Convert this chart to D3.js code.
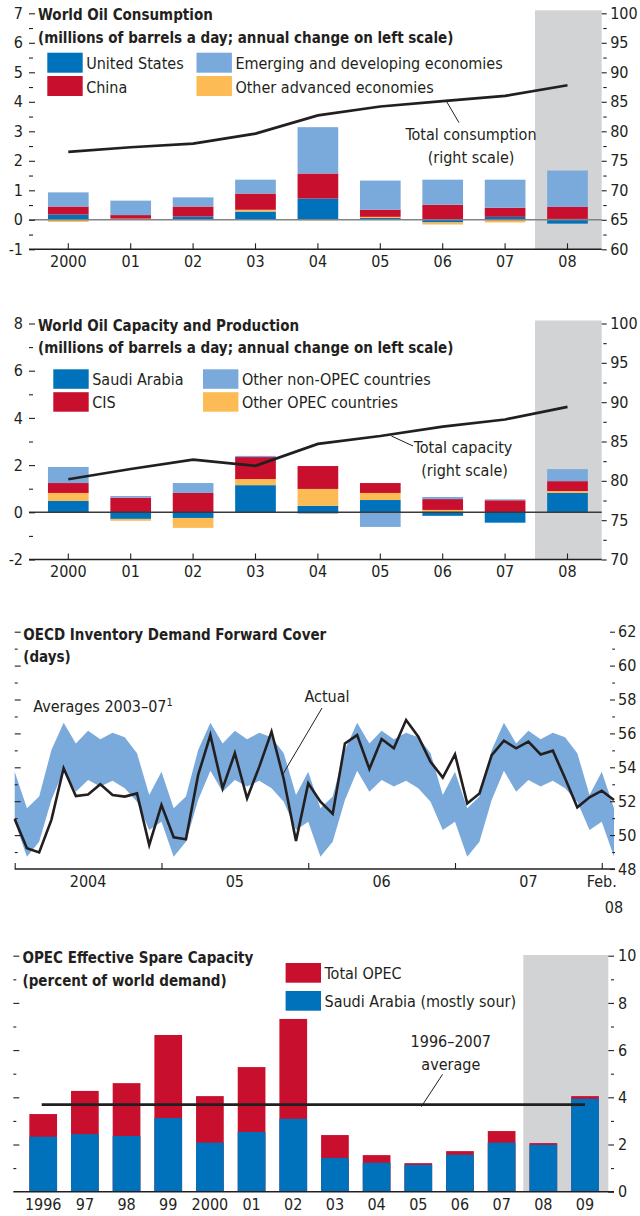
<!DOCTYPE html>
<html>
<head>
<meta charset="utf-8">
<script src="https://cdn.jsdelivr.net/npm/d3@7"></script>
<style>
	body { margin: 0; background: #fff; }
	text { font-family: 'DejaVu Sans Condensed', 'DejaVu Sans', sans-serif; fill: #231f20; }
</style>
</head>
<body>
<svg id="chart" width="640" height="1216"></svg>
<script>
// world oil consumption, annual change (mb/d) and total (right scale)
const consYears = ['2000', '01', '02', '03', '04', '05', '06', '07', '08'];
const consUS = [0.18, 0.02, 0.11, 0.28, 0.72, 0.06, -0.09, 0.10, -0.13];
const consOtherAdv = [-0.07, 0.02, -0.01, 0.06, -0.02, 0.04, -0.07, -0.09, 0.03];
const consChina = [0.27, 0.12, 0.34, 0.55, 0.85, 0.24, 0.51, 0.31, 0.41];
const consEmerging = [0.48, 0.49, 0.31, 0.47, 1.57, 0.99, 0.85, 0.95, 1.23];
const consTotal = [76.5, 77.3, 77.9, 79.6, 82.7, 84.2, 85.1, 86.0, 87.8];

// world oil capacity and production
const capYears = ['2000', '01', '02', '03', '04', '05', '06', '07', '08'];
const capSaudi = [0.48, -0.28, -0.24, 1.15, 0.27, 0.52, -0.15, -0.44, 0.82];
const capOtherOpec = [0.34, -0.08, -0.42, 0.26, 0.72, 0.30, 0.10, 0.0, 0.08];
const capCIS = [0.42, 0.62, 0.82, 0.93, 0.97, 0.42, 0.46, 0.51, 0.42];
const capNonOpec = [0.68, 0.07, 0.42, 0.05, -0.06, -0.62, 0.09, 0.04, 0.51];
const capTotal = [80.2, 81.5, 82.7, 81.9, 84.7, 85.7, 86.9, 87.8, 89.4];

// OECD forward cover (days), monthly Jan 2004 - Feb 2008
const coverActual = [
	50.95, 49.22, 48.98, 50.9, 53.94, 52.3, 52.4, 53.0, 52.37, 52.27, 52.46, 49.42,
	51.78, 49.87, 49.75, 53.55, 55.9, 52.76, 54.83, 52.17, 54.04, 56.1, 53.3, 49.65,
	53.05, 51.97, 51.25, 55.41, 55.9, 53.9, 55.67, 55.12, 56.79, 55.8, 54.33, 53.39,
	54.76, 51.87, 52.46, 54.72, 55.57, 55.12, 55.51, 54.76, 54.98, 53.35, 51.64, 52.23,
	52.62, 52.07
];
// 2003-07 averages by calendar month (Jan..Dec)
const coverAvgHigh = [53.74, 51.58, 52.27, 55.02, 56.63, 55.41, 56.16, 55.65, 56.04, 55.77, 54.83, 52.37];
const coverAvgLow = [50.79, 48.73, 49.61, 52.07, 53.8, 52.56, 53.25, 52.86, 53.21, 52.76, 51.97, 50.3];
const coverYearLabels = ['2004', '05', '06', '07'];

// OPEC effective spare capacity (% of world demand)
const spareYears = ['1996', '97', '98', '99', '2000', '01', '02', '03', '04', '05', '06', '07', '08', '09'];
const spareTotal = [3.29, 4.27, 4.6, 6.64, 4.05, 5.28, 7.32, 2.4, 1.55, 1.21, 1.72, 2.57, 2.06, 4.05];
const spareSaudi = [2.33, 2.44, 2.36, 3.12, 2.08, 2.53, 3.09, 1.43, 1.23, 1.14, 1.57, 2.08, 1.99, 3.94];
const spareAverage = 3.69;

const FONT = "'DejaVu Sans Condensed', 'DejaVu Sans', sans-serif";
const INK = '#231f20';
const BLUE = '#0072bc';
const RED = '#c8102e';
const LIGHT = '#7aaadb';
const ORANGE = '#fdbb55';
const SHADE = '#d1d3d4';
const AXIS_FS = 16;
const TEXT_FS = 16;
const TITLE_FS = 15;

const svg = d3.select('#chart');

function addAxis(axis, tx, ty) {
	const g = svg.append('g')
		.attr('transform', `translate(${tx}, ${ty})`)
		.call(axis);
	g.select('.domain').remove();
	g.attr('font-family', FONT)
		.attr('font-size', AXIS_FS)
		.attr('color', INK);
	g.selectAll('line').attr('stroke-width', 1.1);
	return g;
}

function hline(x1, x2, y, color, w) {
	svg.append('line')
		.attr('x1', x1).attr('x2', x2)
		.attr('y1', y).attr('y2', y)
		.attr('stroke', color)
		.attr('stroke-width', w);
}

function label(txt, x, y, opts = {}) {
	return svg.append('text')
		.attr('x', x)
		.attr('y', y)
		.attr('font-size', opts.size || TEXT_FS)
		.attr('font-weight', opts.bold ? 'bold' : null)
		.attr('text-anchor', opts.anchor || 'start')
		.text(txt);
}

function leader(x1, y1, x2, y2) {
	svg.append('line')
		.attr('x1', x1).attr('y1', y1)
		.attr('x2', x2).attr('y2', y2)
		.attr('stroke', INK)
		.attr('stroke-width', 1);
}

function legend(items) {
	items.forEach(it => {
		svg.append('rect')
			.attr('x', it.x).attr('y', it.y)
			.attr('width', it.w).attr('height', it.h)
			.attr('fill', it.color);
		label(it.name, it.x + it.w + 3.5, it.y + it.h - 3.5);
	});
}

// panels 1 and 2: diverging stacked bars + total line on right scale
function drawStackPanel(p) {
	const x = d3.scaleBand()
		.domain(p.years)
		.range([37.1, 598.7])
		.paddingInner(0.348)
		.paddingOuter(0.174);
	const y = d3.scaleLinear().domain(p.leftDomain).range(p.yRange);
	const yR = d3.scaleLinear().domain(p.rightDomain).range(p.yRange);

	// forecast shading
	svg.append('rect')
		.attr('x', 535)
		.attr('y', p.yRange[1] - 3)
		.attr('width', 601.7 - 535)
		.attr('height', p.yRange[0] - p.yRange[1] + 3)
		.attr('fill', SHADE);

	const rows = p.years.map((yr, i) => {
		const row = {year: yr};
		p.series.forEach(s => { row[s.key] = s.values[i]; });
		return row;
	});
	const stack = d3.stack()
		.keys(p.series.map(s => s.key))
		.offset(d3.stackOffsetDiverging)(rows);

	svg.append('g')
		.selectAll('g')
		.data(stack)
		.join('g')
			.attr('fill', (d, i) => p.series[i].color)
		.selectAll('rect')
		.data(d => d)
		.join('rect')
			.attr('x', d => x(d.data.year))
			.attr('width', x.bandwidth())
			.attr('y', d => Math.min(y(d[0]), y(d[1])))
			.attr('height', d => Math.abs(y(d[0]) - y(d[1])));

	hline(29, 601.7, y(0), p.zeroColor, 1.4);

	const line = d3.line()
		.x((d, i) => x(p.years[i]) + x.bandwidth() / 2)
		.y(d => yR(d));
	svg.append('path')
		.datum(p.total)
		.attr('d', line)
		.attr('fill', 'none')
		.attr('stroke', INK)
		.attr('stroke-width', 2.7);

	// axes
	hline(29, 601.7, p.yRange[0], INK, 1.4);
	addAxis(d3.axisBottom(x).tickSize(-6).tickSizeOuter(0).tickPadding(6.5), 0, p.yRange[0]);
	addAxis(d3.axisLeft(y).tickValues(p.leftMajor).tickSize(-6).tickPadding(6).tickFormat(d => String(d)), 29, 0);
	addAxis(d3.axisLeft(y).tickValues(p.leftMinor).tickSize(-4).tickFormat(''), 29, 0);
	addAxis(d3.axisRight(yR).tickValues(p.rightMajor).tickSize(-5).tickPadding(3.5), 606.7, 0);
	addAxis(d3.axisRight(yR).tickValues(p.rightMinor).tickSize(-3.4).tickFormat(''), 606.7, 0);
}

// ---- panel 1 ----
drawStackPanel({
	years: consYears,
	series: [
		{key: 'us', values: consUS, color: BLUE},
		{key: 'otherAdv', values: consOtherAdv, color: ORANGE},
		{key: 'china', values: consChina, color: RED},
		{key: 'emerging', values: consEmerging, color: LIGHT}
	],
	total: consTotal,
	leftDomain: [-1, 7],
	rightDomain: [60, 100],
	yRange: [249.3, 13.3],
	leftMajor: d3.range(-1, 8),
	leftMinor: d3.range(-0.5, 7, 1),
	rightMajor: d3.range(60, 101, 5),
	rightMinor: d3.range(62.5, 100, 5),
	zeroColor: '#808285'
});
label('World Oil Consumption', 38, 19.5, {bold: true, size: TITLE_FS});
label('(millions of barrels a day; annual change on left scale)', 38, 42.5, {bold: true, size: TITLE_FS});
legend([
	{name: 'United States', color: BLUE, x: 47.3, y: 52.7, w: 35.4, h: 20},
	{name: 'China', color: RED, x: 47.3, y: 76, w: 35.4, h: 20},
	{name: 'Emerging and developing economies', color: LIGHT, x: 196.5, y: 52.7, w: 35.4, h: 20},
	{name: 'Other advanced economies', color: ORANGE, x: 196.5, y: 76, w: 35.4, h: 20}
]);
label('Total consumption', 471, 139.5, {anchor: 'middle'});
label('(right scale)', 471, 162.5, {anchor: 'middle'});
leader(446.7, 101.7, 459, 122.7);

// ---- panel 2 ----
drawStackPanel({
	years: capYears,
	series: [
		{key: 'saudi', values: capSaudi, color: BLUE},
		{key: 'otherOpec', values: capOtherOpec, color: ORANGE},
		{key: 'cis', values: capCIS, color: RED},
		{key: 'nonOpec', values: capNonOpec, color: LIGHT}
	],
	total: capTotal,
	leftDomain: [-2, 8],
	rightDomain: [70, 100],
	yRange: [559.5, 323.5],
	leftMajor: d3.range(-2, 9, 2),
	leftMinor: d3.range(-1, 8, 2),
	rightMajor: d3.range(70, 101, 5),
	rightMinor: d3.range(72.5, 100, 5),
	zeroColor: '#3a3a3a'
});
label('World Oil Capacity and Production', 38, 330.5, {bold: true, size: TITLE_FS});
label('(millions of barrels a day; annual change on left scale)', 38, 353.3, {bold: true, size: TITLE_FS});
legend([
	{name: 'Saudi Arabia', color: BLUE, x: 53.3, y: 369.3, w: 35.4, h: 19.5},
	{name: 'CIS', color: RED, x: 53.3, y: 392.2, w: 35.4, h: 19.5},
	{name: 'Other non-OPEC countries', color: LIGHT, x: 203, y: 369.3, w: 35.4, h: 19.5},
	{name: 'Other OPEC countries', color: ORANGE, x: 203, y: 392.2, w: 35.4, h: 19.5}
]);
label('Total capacity', 463, 453, {anchor: 'middle'});
label('(right scale)', 464.5, 476, {anchor: 'middle'});
leader(391.4, 436, 413, 446);

// ---- panel 3 ----
const xm = d3.scaleLinear().domain([0, coverActual.length - 1]).range([14.7, 614]);
const yd = d3.scaleLinear().domain([48, 62]).range([869, 631.7]);

const band = d3.area()
	.x((d, i) => xm(i))
	.y0((d, i) => yd(coverAvgLow[i % 12]))
	.y1((d, i) => yd(coverAvgHigh[i % 12]));
svg.append('path')
	.datum(coverActual)
	.attr('d', band)
	.attr('fill', LIGHT);

svg.append('path')
	.datum(coverActual)
	.attr('d', d3.line().x((d, i) => xm(i)).y(d => yd(d)))
	.attr('fill', 'none')
	.attr('stroke', INK)
	.attr('stroke-width', 2.6)
	.attr('stroke-linejoin', 'miter');

hline(14.7, 615, yd(48), INK, 1.4);
addAxis(d3.axisBottom(xm).tickValues([0, 12, 24, 36, 48]).tickSize(-6).tickSizeOuter(0).tickFormat(''), 0, yd(48));
addAxis(d3.axisLeft(yd).tickValues(d3.range(50, 63, 2)).tickSize(-6).tickFormat(''), 14.7, 0);
addAxis(d3.axisLeft(yd).tickValues(d3.range(49, 62, 2)).tickSize(-3).tickFormat(''), 14.7, 0);
addAxis(d3.axisRight(yd).tickValues(d3.range(48, 63, 2)).tickSize(-5).tickPadding(3), 615, 0);
addAxis(d3.axisRight(yd).tickValues(d3.range(49, 62, 2)).tickSize(-2.7).tickFormat(''), 615, 0);

coverYearLabels.forEach((t, k) => {
	label(t, xm(k * 12 + 6), 887, {anchor: 'middle', size: AXIS_FS});
});
label('Feb.', xm(48), 887, {anchor: 'middle', size: AXIS_FS});
label('08', xm(49), 912.5, {anchor: 'middle', size: AXIS_FS});

label('OECD Inventory Demand Forward Cover', 23.3, 640, {bold: true, size: TITLE_FS});
label('(days)', 23.3, 662, {bold: true, size: TITLE_FS});
const avgLabel = label('Averages 2003\u201307', 33.3, 712);
avgLabel.append('tspan')
	.attr('dy', -6.5)
	.attr('font-size', 11)
	.text('1');
label('Actual', 327, 702, {anchor: 'middle'});
leader(322, 708, 283, 774);

// ---- panel 4 ----
const xs = d3.scaleBand()
	.domain(spareYears)
	.range([22.36, 605.84])
	.paddingInner(0.335)
	.paddingOuter(0.1675);
const ys = d3.scaleLinear().domain([0, 10]).range([1191.7, 955.7]);

svg.append('rect')
	.attr('x', 523.3)
	.attr('y', 955)
	.attr('width', 608.3 - 523.3)
	.attr('height', 1191.7 - 955)
	.attr('fill', SHADE);

svg.append('g')
	.selectAll('rect')
	.data(spareTotal)
	.join('rect')
		.attr('x', (d, i) => xs(spareYears[i]))
		.attr('width', xs.bandwidth())
		.attr('y', d => ys(d))
		.attr('height', d => ys(0) - ys(d))
		.attr('fill', RED);

svg.append('g')
	.selectAll('rect')
	.data(spareSaudi)
	.join('rect')
		.attr('x', (d, i) => xs(spareYears[i]))
		.attr('width', xs.bandwidth())
		.attr('y', d => ys(d))
		.attr('height', d => ys(0) - ys(d))
		.attr('fill', BLUE);

svg.append('line')
	.attr('x1', xs(spareYears[0]) + xs.bandwidth() / 2 - 1.5)
	.attr('x2', xs(spareYears[spareYears.length - 1]) + xs.bandwidth() / 2)
	.attr('y1', ys(spareAverage))
	.attr('y2', ys(spareAverage))
	.attr('stroke', INK)
	.attr('stroke-width', 2.7);

hline(13.3, 614, ys(0), INK, 1.4);
addAxis(d3.axisBottom(xs).tickSize(0).tickPadding(7).tickSizeOuter(0), 0, ys(0));
addAxis(d3.axisLeft(ys).tickValues(d3.range(2, 11, 2)).tickSize(-6).tickFormat(''), 13.3, 0);
addAxis(d3.axisLeft(ys).tickValues(d3.range(1, 10, 2)).tickSize(-3).tickFormat(''), 13.3, 0);
addAxis(d3.axisRight(ys).tickValues(d3.range(0, 11, 2)).tickSize(-5.7).tickPadding(4), 614, 0);
addAxis(d3.axisRight(ys).tickValues(d3.range(1, 10, 2)).tickSize(-3).tickFormat(''), 614, 0);

label('OPEC Effective Spare Capacity', 22.5, 963.3, {bold: true, size: TITLE_FS});
label('(percent of world demand)', 22.5, 985.5, {bold: true, size: TITLE_FS});
legend([
	{name: 'Total OPEC', color: RED, x: 285.6, y: 963, w: 35.4, h: 19.7},
	{name: 'Saudi Arabia (mostly sour)', color: BLUE, x: 285.6, y: 991, w: 35.4, h: 19.7}
]);
label('1996\u20132007', 450.8, 1046.7, {anchor: 'middle'});
label('average', 450.8, 1070, {anchor: 'middle'});
leader(442.6, 1074.3, 421.3, 1106.7);
</script>
</body>
</html>
